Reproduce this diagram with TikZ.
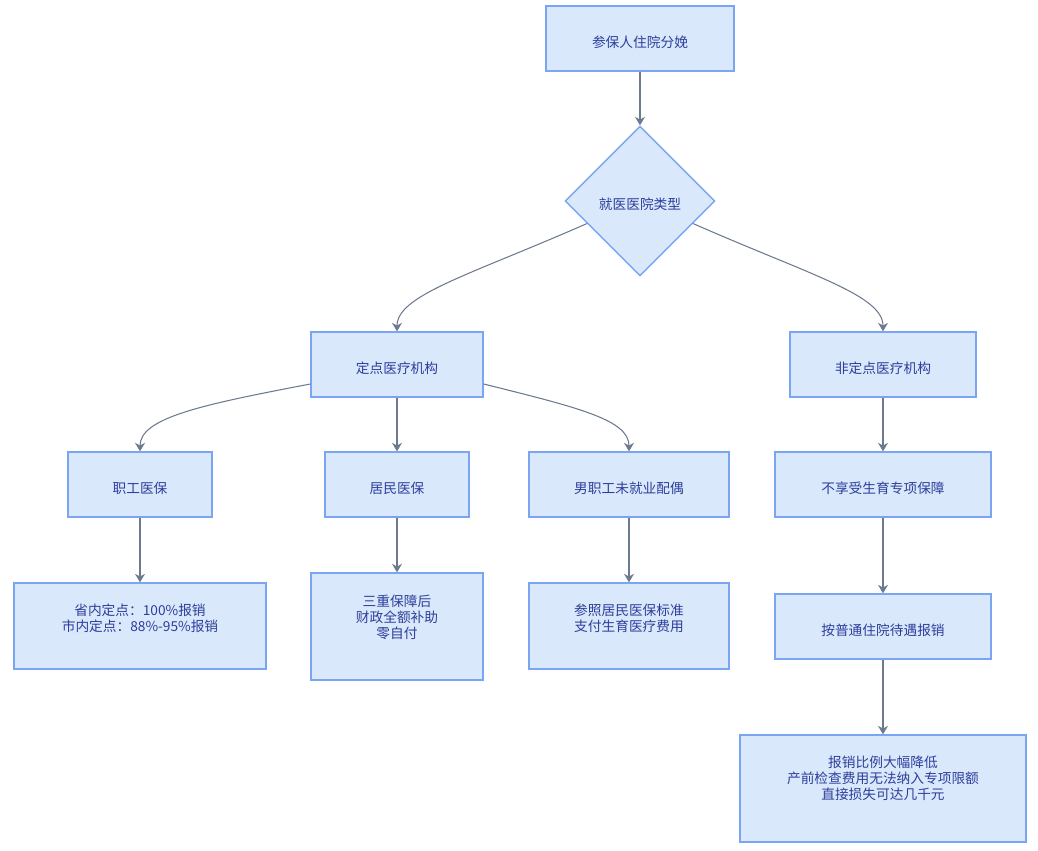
\documentclass[tikz,border=0pt]{standalone}
\usepackage{fontspec}
\newfontfamily\cjk{Noto Sans CJK SC}
\usetikzlibrary{shapes.geometric,arrows.meta}
\definecolor{boxfill}{HTML}{DAE8FC}
\definecolor{boxline}{HTML}{7AA5F2}
\definecolor{boxtext}{HTML}{2D3E9A}
\definecolor{edgecol}{HTML}{6B7A8F}
\begin{document}
\begin{tikzpicture}[x=0.02cm, y=-0.02cm,
		box/.style={draw=boxline, fill=boxfill, line width=0.8pt, text=boxtext, font=\cjk\fontsize{7.8pt}{9.2pt}\selectfont, align=center, minimum height=1.3cm, inner sep=2pt},
		single/.style={box, text height=0.38cm, text depth=0.03cm},
		choice/.style={single, diamond, minimum width=3cm, minimum height=3cm, inner sep=0pt},
		edge/.style={draw=edgecol, line width=0.6pt, -{Stealth[length=0.17cm, width=0.2cm]}}]
		\useasboundingbox (0,0) rectangle (1038,850);

		% Define the nodes
		\node[single, minimum width=3.76cm] (A) at (640, 38.5) {参保人住院分娩};
		\node[choice] (B) at (640, 201) {就医医院类型};
		\node[single, minimum width=3.44cm] (C) at (397, 364.5) {定点医疗机构};
		\node[single, minimum width=3.72cm] (D) at (883, 364.5) {非定点医疗机构};
		\node[single, minimum width=2.88cm] (E) at (140, 484.5) {职工医保};
		\node[single, minimum width=2.88cm] (F) at (397, 484.5) {居民医保};
		\node[single, minimum width=4cm] (G) at (629, 484.5) {男职工未就业配偶};
		\node[single, minimum width=4.32cm] (H) at (883, 484.5) {不享受生育专项保障};
		\node[box, minimum width=5.04cm, minimum height=1.72cm, text depth=0.32cm] (I) at (140, 626) {省内定点：100\%报销\\市内定点：88\%-95\%报销};
		\node[box, minimum width=3.44cm, minimum height=2.14cm, text depth=0.38cm] (J) at (397, 626.5) {三重保障后\\财政全额补助\\零自付};
		\node[box, minimum width=4cm, minimum height=1.72cm, text depth=0.32cm] (K) at (629, 626) {参照居民医保标准\\支付生育医疗费用};
		\node[single, minimum width=4.32cm] (L) at (883, 626.5) {按普通住院待遇报销};
		\node[box, minimum width=5.72cm, minimum height=2.14cm, text depth=0.42cm] (M) at (883, 788.5) {报销比例大幅降低\\产前检查费用无法纳入专项限额\\直接损失可达几千元};

		% Define the edges
		\draw[edge] (A) -- (B);
		\draw[edge] (B.203.5) .. controls (470, 275) and (397, 295) .. (C.north);
		\draw[edge] (B.-23.5) .. controls (810, 275) and (883, 295) .. (D.north);
		\draw[edge] (C.south west |- 0, 384) .. controls (200, 405) and (140, 418) .. (E.north);
		\draw[edge] (C) -- (F);
		\draw[edge] (C.south east |- 0, 384) .. controls (580, 408) and (629, 420) .. (G.north);
		\draw[edge] (D) -- (H);
		\draw[edge] (E) -- (I);
		\draw[edge] (F) -- (J);
		\draw[edge] (G) -- (K);
		\draw[edge] (H) -- (L);
		\draw[edge] (L) -- (M);
	\end{tikzpicture}
\end{document}
